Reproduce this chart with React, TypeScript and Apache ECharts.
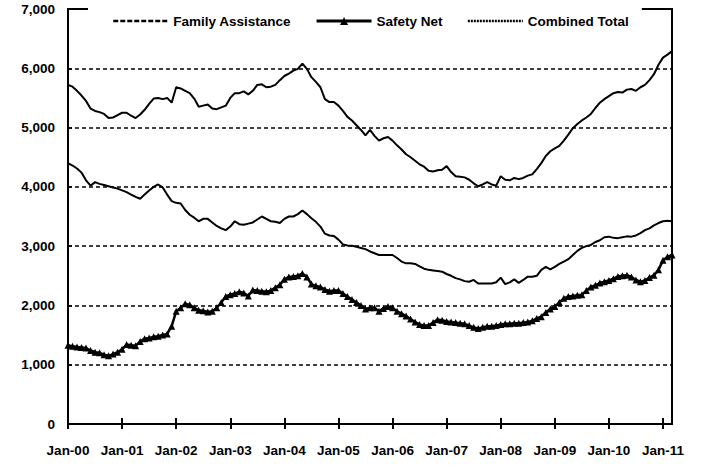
import React, { useEffect, useRef } from "react";
import * as echarts from "echarts";

const YEARS = ["00", "01", "02", "03", "04", "05", "06", "07", "08", "09", "10", "11"];
const MONTHS_IN_LAST_YEAR = 3;

const familyAssistance = [
  4400, 4360, 4310, 4240, 4110, 4020, 4080, 4050, 4030, 4010, 3990, 3970,
  3940, 3910, 3870, 3830, 3800, 3870, 3940, 4000, 4040, 3990, 3870, 3760,
  3730, 3720, 3610, 3530, 3480, 3420, 3460, 3460, 3400, 3340, 3300, 3270,
  3330, 3420, 3370, 3360, 3380, 3400, 3450, 3500, 3460, 3420, 3410, 3390,
  3460, 3500, 3500, 3540, 3600, 3540, 3470, 3410, 3330, 3210, 3180, 3170,
  3110, 3030, 3010, 3005, 2990, 2970, 2950, 2910, 2880, 2850, 2850, 2850,
  2850, 2800, 2740, 2710, 2710, 2700, 2660, 2620, 2600, 2590, 2580, 2570,
  2530, 2500, 2460, 2440, 2410, 2400, 2430, 2370, 2370, 2370, 2370, 2390,
  2470, 2360, 2390, 2440, 2380, 2430, 2485, 2485, 2500, 2600, 2650, 2610,
  2650, 2700, 2740, 2780, 2850, 2920, 2970, 3000, 3020, 3070, 3100, 3150,
  3160, 3140, 3135, 3150, 3165, 3160, 3180, 3220, 3270, 3300, 3350, 3390,
  3420, 3430, 3420,
];

const safetyNet = [
  1330, 1310, 1300, 1290, 1280, 1240, 1210, 1200, 1170, 1150, 1180, 1210,
  1260, 1340, 1330, 1320, 1390, 1440, 1450, 1470, 1480, 1500, 1520, 1650,
  1900, 1960, 2030, 2010, 1960, 1920, 1910, 1890, 1900, 1960, 2050, 2150,
  2180, 2200, 2230, 2210, 2160, 2260, 2250, 2240, 2230, 2250, 2300, 2350,
  2440, 2480, 2490, 2500, 2540, 2480, 2360, 2330, 2310, 2270, 2240, 2250,
  2250, 2200, 2150, 2100, 2050, 2000, 1940, 1960, 1960, 1900, 1950, 1980,
  1960, 1900, 1860, 1820, 1770, 1720, 1680, 1660, 1660, 1710, 1760, 1750,
  1730, 1720, 1710, 1700, 1690, 1660, 1630, 1610, 1630, 1650, 1650, 1660,
  1680, 1690, 1690, 1700, 1700, 1710, 1720, 1740, 1780, 1810, 1880, 1940,
  1980, 2050, 2120, 2150, 2160, 2170, 2180, 2250, 2310, 2340, 2380, 2400,
  2420, 2450, 2490, 2500, 2510, 2480, 2430, 2400, 2420, 2470, 2510, 2600,
  2760, 2820, 2850,
];

const combinedTotal = [
  5720, 5690, 5620, 5540, 5450, 5320, 5280, 5260, 5230, 5160, 5170, 5210,
  5250, 5250, 5200, 5160, 5220, 5300, 5400, 5490, 5500, 5480, 5500, 5420,
  5680, 5660, 5620, 5580, 5490, 5350, 5370, 5390, 5320, 5310, 5340, 5370,
  5500, 5580, 5580, 5610, 5560, 5620, 5720, 5730, 5680, 5690, 5720, 5800,
  5870, 5910, 5960, 5990, 6080, 5990, 5850, 5770, 5680, 5480, 5430, 5430,
  5370, 5280, 5180, 5120, 5040, 4960, 4870, 4960, 4860, 4780, 4820, 4840,
  4780, 4700, 4630, 4550, 4500, 4440, 4380, 4340, 4270, 4260, 4280, 4290,
  4350, 4250, 4180, 4170, 4160, 4120, 4060, 4010, 4040, 4080, 4040, 4020,
  4180, 4120, 4110, 4150, 4130, 4150, 4190, 4210, 4300, 4400, 4520, 4600,
  4650, 4690, 4780, 4880, 4990, 5060, 5120, 5170, 5230, 5330, 5420, 5480,
  5530, 5580, 5600, 5590, 5640, 5650, 5620, 5680, 5720, 5800, 5900, 6060,
  6180, 6230, 6290,
];

const MONTH_NAMES = ["Jan", "Feb", "Mar", "Apr", "May", "Jun", "Jul", "Aug", "Sep", "Oct", "Nov", "Dec"];

const categories: string[] = [];
YEARS.forEach((y, i) => {
  const n = i === YEARS.length - 1 ? MONTHS_IN_LAST_YEAR : 12;
  for (let m = 0; m < n; m++) categories.push(`${MONTH_NAMES[m]}-${y}`);
});

const FONT = "'Liberation Sans', Arial, sans-serif";

export default function App() {
  const ref = useRef<HTMLDivElement>(null);
  useEffect(() => {
    if (!ref.current) return;
    const chart = echarts.init(ref.current, undefined, { renderer: "svg" });
    const yearTick = (i: number) => i % 12 === 0;
    chart.setOption({
      animation: false,
      backgroundColor: "#fff",
      textStyle: { fontFamily: FONT },
      grid: {
        left: 68,
        right: 30,
        top: 9,
        bottom: 43,
        show: true,
        borderColor: "#000",
        borderWidth: 2,
      },
      legend: {
        left: 88,
        top: 0,
        padding: [14, 13, 6, 24],
        backgroundColor: "#fff",
        itemWidth: 55,
        itemHeight: 10,
        itemGap: 24,
        textStyle: { fontFamily: FONT, fontWeight: "bold", fontSize: 13.5, color: "#000" },
        data: [
          {
            name: "Family Assistance",
            itemStyle: { opacity: 0 },
            lineStyle: { type: [5, 2], width: 2.5, color: "#000" },
          },
          { name: "Safety Net", lineStyle: { width: 3, color: "#000" } },
          {
            name: "Combined Total",
            itemStyle: { opacity: 0 },
            lineStyle: { type: [2, 1], width: 2.5, color: "#000" },
          },
        ],
      },
      xAxis: [
        {
          type: "category",
          data: categories,
          boundaryGap: false,
          axisLine: { lineStyle: { color: "#000", width: 2 } },
          axisTick: { interval: yearTick, length: 5, lineStyle: { color: "#000", width: 2 } },
          axisLabel: {
            interval: yearTick,
            margin: 19,
            color: "#000",
            fontFamily: FONT,
            fontWeight: "bold",
            fontSize: 13.5,
          },
          splitLine: { show: false },
        },
        {
          type: "category",
          data: categories,
          boundaryGap: false,
          position: "bottom",
          offset: 0,
          axisLine: { show: false },
          axisTick: { inside: true, interval: yearTick, length: 6, lineStyle: { color: "#000", width: 2 } },
          axisLabel: { show: false },
          splitLine: { show: false },
        },
      ],
      yAxis: {
        type: "value",
        min: 0,
        max: 7000,
        interval: 1000,
        axisLine: { show: true, lineStyle: { color: "#000", width: 2 } },
        axisTick: { show: true, inside: true, length: 4, lineStyle: { color: "#000", width: 1.5 } },
        axisLabel: {
          margin: 13,
          color: "#000",
          fontFamily: FONT,
          fontWeight: "bold",
          fontSize: 13.5,
          formatter: (v: number) => v.toLocaleString("en-US"),
        },
        splitLine: { show: true, lineStyle: { color: "#000", type: [4, 3], width: 1.5 } },
      },
      series: [
        {
          name: "Family Assistance",
          type: "line",
          data: familyAssistance,
          symbol: "none",
          lineStyle: { color: "#000", width: 2 },
          itemStyle: { color: "#000" },
        },
        {
          name: "Safety Net",
          type: "line",
          data: safetyNet,
          symbol: "triangle",
          symbolSize: 7,
          showAllSymbol: true,
          lineStyle: { color: "#000", width: 2.5 },
          itemStyle: { color: "#000" },
        },
        {
          name: "Combined Total",
          type: "line",
          data: combinedTotal,
          symbol: "none",
          lineStyle: { color: "#000", width: 2 },
          itemStyle: { color: "#000" },
        },
      ],
    });
    return () => chart.dispose();
  }, []);
  return <div ref={ref} style={{ width: 702, height: 467, position: "absolute", left: 0, top: 0 }} />;
}
